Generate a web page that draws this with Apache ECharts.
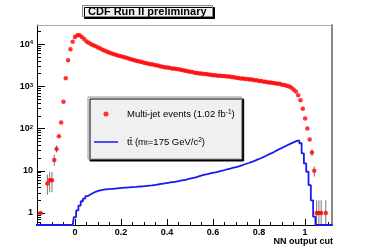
<!DOCTYPE html>
<html><head><meta charset="utf-8">
<script src="https://cdn.jsdelivr.net/npm/echarts@6/dist/echarts.min.js"></script>
<style>html,body{margin:0;padding:0;background:#fff}#c{width:371px;height:251px}</style>
</head><body><div id="c"></div>
<script>
// ---- data (bins of width 0.01, centres from -0.17 to 1.12) ----
const binStart = -0.17;
const binWidth = 0.01;
const dataName = 'Multi-jet events (1.02 fb⁻¹)';
const mcName = 'tt̄ (mt=175 GeV/c²)';
const multijetValues = [
  null,null,1,null,null,5,6,6,18,33,
  66,140,430,1550,4150,7600,11400,14900,16400,16300,
  14900,13200,11600,10800,10000,9500,8900,8300,7900,7400,
  7000,6650,6300,6050,5750,5560,5350,5150,5000,4820,
  4640,4480,4300,4160,4020,3890,3790,3640,3560,3440,
  3360,3290,3180,3120,2990,2910,2860,2790,2750,2670,
  2640,2570,2550,2480,2430,2340,2290,2210,2190,2120,
  2090,2030,2020,1980,1960,1910,1900,1850,1850,1800,
  1800,1760,1770,1720,1710,1660,1650,1600,1590,1540,
  1540,1490,1490,1460,1450,1400,1390,1340,1340,1290,
  1290,1240,1240,1200,1190,1150,1150,1100,1080,1030,
  1000,940,850,760,620,470,295,173,100,55,
  27,10,1,1,1,null,1,null,null,null
];
const ttbarValues = [
  0,0,0,0,0,0,0,0,0,0,
  0,0,0,0,0,0,0,0.8,1.15,1.5,
  1.9,2.2,2.5,2.7,2.9,3.1,3.25,3.4,3.5,3.6,
  3.65,3.7,3.72,3.75,3.8,3.85,3.9,3.95,3.98,4.0,
  4.05,4.1,4.12,4.15,4.2,4.25,4.3,4.35,4.4,4.45,
  4.5,4.6,4.7,4.8,4.9,5.0,5.1,5.2,5.3,5.4,
  5.5,5.6,5.75,5.9,6.05,6.2,6.4,6.6,6.8,7.0,
  7.3,7.6,7.9,8.1,8.3,8.6,8.9,9.1,9.3,9.6,
  9.9,10.2,10.6,11.0,11.3,11.7,12.0,12.4,12.9,13.5,
  14.1,14.7,15.3,16.0,16.7,17.6,18.6,19.6,20.7,21.9,
  23.3,24.8,26.3,28.0,30.0,32.0,34.0,36.2,38.5,41.0,
  43.5,46.0,48.5,51.0,52.5,45.0,26.0,15.0,9.5,4.6,
  2.0,0.82,0,0,0,0,0,0,0,0
];
// error bars: x, low, high, half-width in x
const errX    = [-0.15, -0.12, -0.11, -0.10, -0.09, -0.08, 1.03, 1.04, 1.05, 1.06, 1.07, 1.09];
const errLow  = [1, 2.7, 3.1, 3.1, 13, 27, 22, 7.3, 0, 0, 0, 0];
const errHigh = [1, 8.2, 9.3, 9.3, 24, 40, 32, 12.6, 2, 2, 2, 2];
const errXHalf= [0.01, 0, 0, 0, 0, 0, 0, 0, 0, 0, 0, 0];
const errY    = [1, 5, 6, 6, 18, 33, 27, 10, 1, 1, 1, 1];
// axis ticks
const xMajor = [0, 0.2, 0.4, 0.6, 0.8, 1];
const yMajor = [1, 10, 100, 1000, 10000];

// ---- build ----
const X_MIN = -0.165, X_MAX = 1.117, Y_MIN = 0.52, Y_MAX = 28500;
const binX = i => Math.round((binStart + i * binWidth) * 1000) / 1000;
const redData = [];
multijetValues.forEach((v, i) => { if (v != null) redData.push([binX(i), v]); });
const blueData = ttbarValues.map((v, i) => [binX(i), v > 0 ? v : Y_MIN]);
const errData = errX.map((x, i) => [x, errLow[i], errHigh[i], errXHalf[i], errY[i]]);
const xMinor = [];
for (let k = -3; k <= 22; k++) { const v = Math.round(k * 5) / 100; if (k % 4 !== 0) xMinor.push(v); }
const yMinor = [];
for (let e = -1; e <= 4; e++) for (let m = 2; m <= 9; m++) { const v = m * Math.pow(10, e); if (v > Y_MIN && v < Y_MAX) yMinor.push(+v.toPrecision(3)); }

const font = 'Liberation Sans, Arial, Helvetica, sans-serif';
const chart = echarts.init(document.getElementById('c'), null, {renderer: 'canvas'});
chart.setOption({
  animation: false,
  backgroundColor: '#fff',
  title: {
    text: 'CDF Run II preliminary', left: 82, top: 5, padding: [1, 6, 0, 6],
    backgroundColor: '#f2f2f2', borderColor: '#888', borderWidth: 1,
    shadowColor: '#000', shadowOffsetX: 2, shadowOffsetY: 2, shadowBlur: 0,
    textStyle: {fontFamily: font, fontSize: 11, fontWeight: 'bold', color: '#000'}
  },
  legend: {
    orient: 'vertical', left: 88, top: 97, padding: [12, 7, 12, 6], itemGap: 18,
    itemWidth: 24, itemHeight: 5, selectedMode: false,
    backgroundColor: '#f0f0f0', borderColor: '#999', borderWidth: 1,
    shadowColor: '#000', shadowOffsetX: 2, shadowOffsetY: 2, shadowBlur: 0,
    data: [{name: dataName, icon: 'circle'}, {name: mcName, icon: 'path://M0,0L24,0L24,1.5L0,1.5Z'}],
    formatter: n => n === dataName ? 'Multi-jet events (1.02 fb{sup|-1})' : 'tt\u0304 (m{sub|t}=175 GeV/c{sup|2})',
    textStyle: {
      fontFamily: font, fontSize: 9.5, color: '#000', padding: [0, 0, 0, 4],
      rich: {
        sup: {fontFamily: font, fontSize: 6.5, color: '#000', verticalAlign: 'top'},
        sub: {fontFamily: font, fontSize: 6.5, color: '#000', verticalAlign: 'bottom'}
      }
    }
  },
  grid: {left: 37, top: 25, width: 295, height: 200},
  xAxis: [
    {
      type: 'value', min: X_MIN, max: X_MAX, position: 'bottom',
      axisLine: {show: true, onZero: false, lineStyle: {color: '#000', width: 1}},
      axisTick: {show: true, inside: true, length: 6, customValues: xMajor, lineStyle: {color: '#000'}},
      axisLabel: {customValues: xMajor, formatter: v => String(v), margin: 3,
        fontFamily: font, fontSize: 9, fontWeight: 'bold', color: '#000'},
      splitLine: {show: false},
      name: 'NN output cut', nameLocation: 'end', nameGap: 1,
      nameTextStyle: {fontFamily: font, fontSize: 9, fontWeight: 'bold', color: '#000',
        align: 'right', verticalAlign: 'top', padding: [12, 0, 0, 0]}
    },
    {
      type: 'value', min: X_MIN, max: X_MAX, position: 'bottom',
      axisLine: {show: false, onZero: false},
      axisTick: {show: true, inside: true, length: 3, customValues: xMinor, lineStyle: {color: '#000'}},
      axisLabel: {show: false}, splitLine: {show: false}
    },
    {
      type: 'value', min: X_MIN, max: X_MAX, position: 'top',
      axisLine: {show: true, onZero: false, lineStyle: {color: '#aaa', width: 1}},
      axisTick: {show: false}, axisLabel: {show: false}, splitLine: {show: false}
    }
  ],
  yAxis: [
    {
      type: 'log', logBase: 10, min: Y_MIN, max: Y_MAX, position: 'left',
      axisLine: {show: true, onZero: false, lineStyle: {color: '#000', width: 1}},
      axisTick: {show: true, inside: true, length: 8, customValues: yMajor, lineStyle: {color: '#000'}},
      axisLabel: {
        customValues: yMajor, margin: 4,
        formatter: v => { const e = Math.round(Math.log10(v)); return e >= 2 ? '{b|10}{s|' + e + '}' : '{b|' + Math.round(v) + '}'; },
        rich: {
          b: {fontFamily: font, fontSize: 9, fontWeight: 'bold', color: '#000'},
          s: {fontFamily: font, fontSize: 6, fontWeight: 'bold', color: '#000', verticalAlign: 'top'}
        }
      },
      splitLine: {show: false}
    },
    {
      type: 'log', logBase: 10, min: Y_MIN, max: Y_MAX, position: 'left',
      axisLine: {show: false, onZero: false},
      axisTick: {show: true, inside: true, length: 4, customValues: yMinor, lineStyle: {color: '#000'}},
      axisLabel: {show: false}, splitLine: {show: false}
    },
    {
      type: 'value', min: 0, max: 1, position: 'right',
      axisLine: {show: true, onZero: false, lineStyle: {color: '#888', width: 2}},
      axisTick: {show: false}, axisLabel: {show: false}, splitLine: {show: false}
    }
  ],
  series: [
    {
      name: 'errors', type: 'custom', xAxisIndex: 0, yAxisIndex: 0, z: 2, clip: true,
      renderItem: (params, api) => {
        const x = api.value(0), lo = Math.max(api.value(1), Y_MIN), hi = api.value(2), hx = api.value(3), yc = api.value(4);
        const children = [];
        if (hi > lo) {
          const a = api.coord([x, lo]), b = api.coord([x, hi]);
          children.push({type: 'line', shape: {x1: a[0], y1: a[1], x2: b[0], y2: b[1]}, style: {stroke: '#777', lineWidth: 1}});
        }
        if (hx > 0) {
          const a = api.coord([x - hx, yc]), b = api.coord([x + hx, yc]);
          children.push({type: 'line', shape: {x1: a[0], y1: a[1], x2: b[0], y2: b[1]}, style: {stroke: '#333', lineWidth: 1}});
        }
        return {type: 'group', children};
      },
      data: errData
    },
    {
      name: mcName, type: 'line', xAxisIndex: 0, yAxisIndex: 0, step: 'middle', symbol: 'none',
      lineStyle: {color: '#1a1aee', width: 1.8}, itemStyle: {color: '#1a1aee'}, z: 3, clip: true,
      data: blueData
    },
    {
      name: dataName, type: 'scatter', xAxisIndex: 0, yAxisIndex: 0, symbol: 'circle', symbolSize: 4.5,
      itemStyle: {color: '#ff0000'}, z: 4, clip: true,
      data: redData
    }
  ]
});
</script>
</body></html>
